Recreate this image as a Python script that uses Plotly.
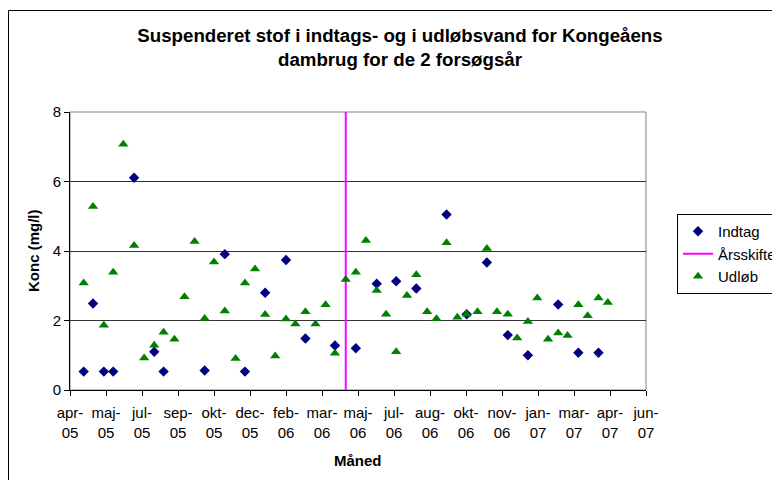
import pandas as pd
import plotly.graph_objects as go

# ---- data ----
indtag_dates = ["2005-04-27", "2005-05-10", "2005-05-25", "2005-06-07", "2005-07-06",
                "2005-08-03", "2005-08-16", "2005-10-12", "2005-11-09", "2005-12-07",
                "2006-01-04", "2006-02-02", "2006-03-01", "2006-04-11", "2006-05-10",
                "2006-06-08", "2006-07-05", "2006-08-02", "2006-09-13", "2006-10-11",
                "2006-11-08", "2006-12-07", "2007-01-04", "2007-02-15", "2007-03-15",
                "2007-04-12"]
indtag_values = [0.53, 2.49, 0.53, 0.53, 6.11,
                 1.10, 0.53, 0.56, 3.91, 0.53,
                 2.80, 3.74, 1.48, 1.28, 1.20,
                 3.06, 3.13, 2.92, 5.05, 2.18,
                 3.67, 1.58, 1.00, 2.46, 1.07,
                 1.07]

udlob_dates = ["2005-04-27", "2005-05-10", "2005-05-25", "2005-06-07", "2005-06-21",
               "2005-07-06", "2005-07-20", "2005-08-03", "2005-08-16", "2005-08-31",
               "2005-09-14", "2005-09-28", "2005-10-12", "2005-10-25", "2005-11-09",
               "2005-11-24", "2005-12-07", "2005-12-21", "2006-01-04", "2006-01-18",
               "2006-02-02", "2006-02-15", "2006-03-01", "2006-03-15", "2006-03-29",
               "2006-04-11", "2006-04-26", "2006-05-10", "2006-05-24", "2006-06-08",
               "2006-06-21", "2006-07-05", "2006-07-20", "2006-08-02", "2006-08-17",
               "2006-08-30", "2006-09-13", "2006-09-28", "2006-10-11", "2006-10-26",
               "2006-11-08", "2006-11-22", "2006-12-07", "2006-12-20", "2007-01-04",
               "2007-01-17", "2007-02-01", "2007-02-15", "2007-02-28", "2007-03-15",
               "2007-03-28", "2007-04-12", "2007-04-25"]
udlob_values = [3.08, 5.28, 1.86, 3.39, 7.07,
                4.16, 0.92, 1.29, 1.66, 1.46,
                2.68, 4.27, 2.06, 3.68, 2.27,
                0.91, 3.08, 3.48, 2.17, 0.98,
                2.04, 1.90, 2.25, 1.90, 2.45,
                1.06, 3.18, 3.39, 4.30, 2.86,
                2.18, 1.10, 2.72, 3.32, 2.25,
                2.05, 4.24, 2.09, 2.18, 2.25,
                4.07, 2.25, 2.18, 1.50, 1.97,
                2.65, 1.46, 1.64, 1.57, 2.45,
                2.14, 2.65, 2.52]

arsskifte_date = "2006-04-26"
y_range = [0, 8]

x_axis_start = "2005-04-08"
x_axis_end = "2007-06-17"
tick_step_days = 50
tick_labels = ["apr-<br>05", "maj-<br>05", "jul-<br>05", "sep-<br>05", "okt-<br>05",
               "dec-<br>05", "feb-<br>06", "mar-<br>06", "maj-<br>06", "jul-<br>06",
               "aug-<br>06", "okt-<br>06", "nov-<br>06", "jan-<br>07", "mar-<br>07",
               "apr-<br>07", "jun-<br>07"]

title_text = "Suspenderet stof i indtags- og i udløbsvand for Kongeåens<br>dambrug for de 2 forsøgsår"
x_title = "Måned"
y_title = "Konc (mg/l)"

tick_vals = pd.date_range(x_axis_start, periods=len(tick_labels), freq=f"{tick_step_days}D")

FONT = "Liberation Sans, Arial, sans-serif"

fig = go.Figure()
fig.add_trace(go.Scatter(
    x=indtag_dates, y=indtag_values, mode="markers", name="Indtag",
    marker=dict(symbol="diamond", size=8, color="#000080"),
))
fig.add_trace(go.Scatter(
    x=[arsskifte_date, arsskifte_date], y=y_range, mode="lines", name="Årsskifte",
    line=dict(color="#FF00FF", width=2),
))
fig.add_trace(go.Scatter(
    x=udlob_dates, y=udlob_values, mode="markers", name="Udløb",
    marker=dict(symbol="triangle-up", size=9, color="#008000"),
))

# the page body adds an 8px offset; layout is expressed in figure pixels
W, H = 780, 480
ML, MR, MT, MB = 62, 142, 104, 98
pw, ph = W - ML - MR, H - MT - MB


def px_x(fx):
    return (fx - ML) / pw


def px_y(fy):
    return (H - MB - fy) / ph


fig.update_layout(
    width=W, height=H,
    margin=dict(l=ML, r=MR, t=MT, b=MB, pad=0, autoexpand=False),
    paper_bgcolor="white", plot_bgcolor="white",
    font=dict(family=FONT, size=15, color="black"),
    title=dict(text="<b>" + title_text + "</b>", x=392 / W, xanchor="center",
               xref="container", y=1 - 34 / H, yanchor="top", yref="container",
               font=dict(size=18.7, family=FONT, color="black")),
    showlegend=True,
    legend=dict(x=px_x(669), xanchor="left", y=px_y(206), yanchor="top",
                bordercolor="black", borderwidth=1, bgcolor="white",
                font=dict(size=15, family=FONT), tracegroupgap=0, itemwidth=30),
    xaxis=dict(type="date", range=[x_axis_start, x_axis_end], automargin=False,
               tickmode="array", tickvals=tick_vals, ticktext=tick_labels,
               ticks="outside", ticklen=5, tickcolor="black", tickwidth=1,
               ticklabelstandoff=4,
               showline=True, linecolor="black", linewidth=1,
               showgrid=False, zeroline=False, tickangle=0,
               tickfont=dict(size=15)),
    yaxis=dict(range=y_range, tickvals=[0, 2, 4, 6, 8], automargin=False,
               ticks="outside", ticklen=5, tickcolor="black", tickwidth=1,
               showline=True, linecolor="black", linewidth=1,
               showgrid=True, gridcolor="#333333", gridwidth=1, zeroline=False,
               tickfont=dict(size=15)),
    annotations=[
        dict(text="<b>" + x_title + "</b>", xref="paper", yref="paper",
             x=0.5, y=px_y(452), xanchor="center", yanchor="middle",
             showarrow=False, font=dict(size=15)),
        dict(text="<b>" + y_title + "</b>", xref="paper", yref="paper",
             x=px_x(25), y=0.5, xanchor="center", yanchor="middle", textangle=-90,
             showarrow=False, font=dict(size=15)),
    ],
    shapes=[
        # plot area frame (top/right grey)
        dict(type="rect", xref="paper", yref="paper", x0=0, x1=1, y0=0, y1=1,
             line=dict(color="#808080", width=1), layer="below"),
        # chart area border (left and top edges; right/bottom are cropped)
        dict(type="line", xref="paper", yref="paper",
             x0=px_x(0.5), x1=px_x(0.5), y0=px_y(H), y1=px_y(2.5),
             line=dict(color="black", width=1)),
        dict(type="line", xref="paper", yref="paper",
             x0=px_x(0.5), x1=px_x(W), y0=px_y(2.5), y1=px_y(2.5),
             line=dict(color="black", width=1)),
    ],
)

fig.write_html("out.html", config={"displayModeBar": False})
